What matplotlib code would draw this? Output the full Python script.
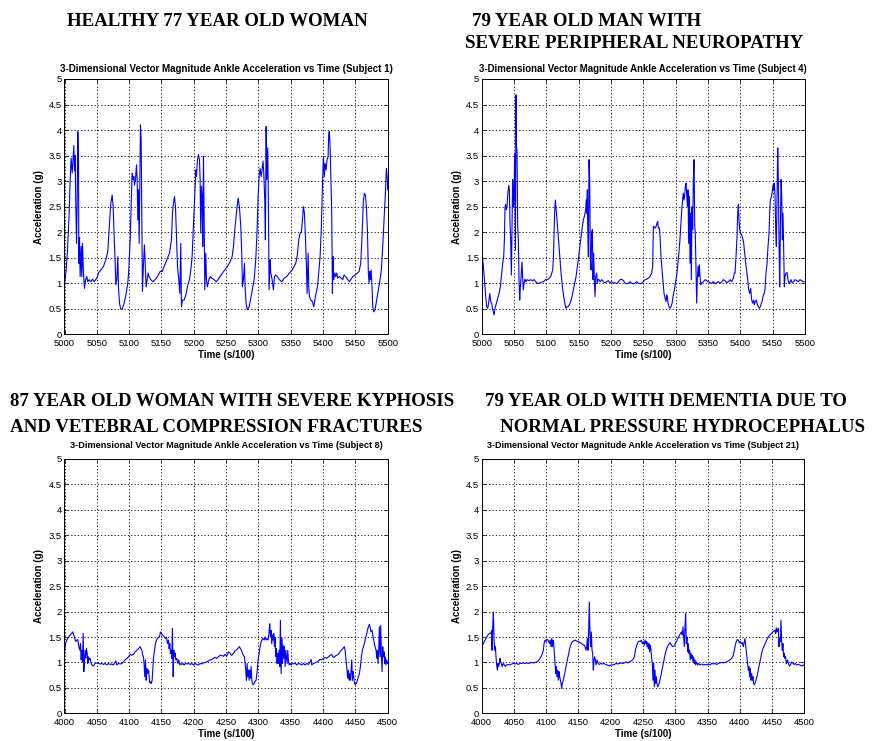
import matplotlib
matplotlib.use("Agg")
import matplotlib.pyplot as plt
import numpy as np

# ---------------- data ----------------
t_s1 = [5000.0, 5002.6, 5004.6, 5007.2, 5008.8, 5010.3, 5011.9, 5012.9, 5014.4, 5015.5, 5016.5, 5017.5, 5018.6,
        5019.6, 5020.6, 5021.7, 5022.2, 5023.2, 5024.2, 5025.8, 5026.8, 5027.8, 5029.4, 5030.9, 5032.5, 5034.5,
        5036.1, 5038.1, 5040.7, 5043.3, 5045.9, 5050.0, 5052.6, 5056.2, 5060.3, 5063.9, 5067.0, 5069.6, 5071.7,
        5073.7, 5075.3, 5076.8, 5078.4, 5079.4, 5080.9, 5082.5, 5083.5, 5085.1, 5087.1, 5089.2, 5092.3, 5095.4,
        5097.9, 5099.5, 5101.6, 5103.1, 5104.6, 5106.2, 5107.2, 5108.3, 5109.8, 5111.4, 5112.4, 5113.4, 5114.5,
        5115.5, 5116.5, 5117.5, 5118.6, 5119.6, 5120.6, 5122.2, 5123.7, 5124.8, 5126.3, 5127.8, 5129.4, 5130.9,
        5133.5, 5136.6, 5140.2, 5143.8, 5147.9, 5151.0, 5154.1, 5158.3, 5162.4, 5165.5, 5167.0, 5168.6, 5170.1,
        5171.7, 5173.2, 5174.8, 5176.8, 5178.4, 5179.9, 5180.9, 5182.5, 5185.1, 5188.2, 5190.7, 5193.3, 5195.4,
        5197.4, 5199.0, 5200.5, 5202.1, 5203.1, 5204.1, 5205.7, 5207.2, 5208.8, 5209.8, 5210.8, 5211.9, 5212.9,
        5213.9, 5215.0, 5216.0, 5217.0, 5218.6, 5219.6, 5221.1, 5223.2, 5225.3, 5227.8, 5231.5, 5234.5, 5237.6,
        5240.7, 5244.3, 5248.0, 5252.1, 5256.2, 5259.3, 5261.4, 5263.9, 5266.5, 5268.6, 5270.6, 5272.7, 5274.2,
        5275.3, 5276.8, 5278.4, 5279.4, 5280.9, 5283.0, 5285.6, 5288.7, 5291.3, 5293.3, 5295.9, 5298.0, 5299.5,
        5301.1, 5302.6, 5304.2, 5305.7, 5307.2, 5308.3, 5309.8, 5310.8, 5311.9, 5312.9, 5314.4, 5315.5, 5316.5,
        5318.1, 5319.1, 5321.2, 5323.2, 5324.8, 5326.8, 5329.4, 5332.5, 5336.1, 5339.7, 5343.8, 5347.9, 5352.1,
        5355.2, 5357.8, 5360.3, 5362.4, 5364.4, 5366.5, 5368.1, 5369.6, 5371.2, 5372.7, 5374.3, 5375.3, 5376.9,
        5377.9, 5378.9, 5381.0, 5383.5, 5385.6, 5388.2, 5391.3, 5393.3, 5395.4, 5397.4, 5399.0, 5400.5, 5402.1,
        5403.1, 5404.7, 5406.2, 5407.8, 5408.8, 5409.8, 5410.9, 5411.9, 5413.4, 5414.5, 5415.5, 5416.5, 5418.1,
        5419.6, 5421.2, 5422.7, 5425.3, 5427.9, 5430.4, 5432.5, 5435.1, 5438.2, 5440.8, 5443.3, 5445.9, 5449.5,
        5453.1, 5455.7, 5458.3, 5460.3, 5462.4, 5463.9, 5465.5, 5467.0, 5468.6, 5470.1, 5471.2, 5472.2, 5473.2,
        5474.3, 5475.8, 5476.8, 5478.4, 5480.4, 5483.0, 5485.6, 5488.2, 5490.2, 5492.3, 5494.4, 5496.4, 5498.0,
        5499.5, 5500.0]
a_s1 = [0.97, 1.26, 1.65, 2.37, 3.03, 3.45, 3.16, 3.35, 3.70, 3.20, 3.50, 2.50, 1.78,
        2.57, 3.97, 3.42, 1.39, 1.90, 1.13, 1.72, 1.13, 1.78, 1.19, 0.90, 1.07, 1.13,
        1.03, 1.07, 1.03, 1.08, 1.03, 1.10, 1.20, 1.26, 1.33, 1.46, 1.62, 2.18, 2.57,
        2.73, 2.50, 1.92, 1.39, 0.97, 1.07, 1.52, 0.93, 0.61, 0.49, 0.49, 0.61, 0.80,
        1.00, 1.26, 1.85, 2.50, 3.16, 3.03, 3.09, 2.93, 3.03, 3.32, 3.03, 2.24, 2.83,
        1.78, 2.90, 4.10, 3.81, 2.31, 0.84, 1.39, 1.75, 1.39, 0.93, 1.07, 1.20, 1.13,
        1.07, 1.03, 1.07, 1.13, 1.23, 1.23, 1.33, 1.46, 1.59, 1.85, 2.37, 2.57, 2.70,
        2.50, 1.92, 1.33, 1.07, 0.80, 1.78, 0.54, 0.67, 0.67, 0.80, 0.96, 1.07, 1.26,
        1.52, 1.98, 2.37, 2.90, 3.22, 3.09, 3.42, 3.52, 3.42, 3.03, 1.98, 2.90, 2.70,
        1.72, 3.48, 2.37, 0.87, 1.59, 1.07, 0.93, 1.07, 1.13, 1.10, 1.07, 1.03, 1.07,
        1.13, 1.20, 1.26, 1.33, 1.42, 1.52, 1.72, 2.11, 2.44, 2.67, 2.50, 2.11, 1.59,
        0.93, 1.07, 1.39, 0.93, 0.61, 0.48, 0.54, 0.74, 0.93, 1.07, 1.46, 2.05, 2.70,
        3.09, 3.25, 3.09, 3.22, 3.39, 3.16, 2.63, 1.85, 4.07, 3.03, 3.65, 2.50, 0.87,
        1.46, 1.20, 1.07, 0.87, 1.13, 1.16, 1.13, 1.07, 1.03, 1.10, 1.13, 1.20, 1.26,
        1.33, 1.39, 1.56, 1.85, 1.98, 2.01, 2.24, 2.50, 2.37, 1.92, 1.33, 0.80, 1.59,
        0.93, 0.74, 0.67, 0.64, 0.54, 0.74, 0.93, 1.20, 1.52, 2.11, 2.90, 3.48, 3.09,
        3.35, 3.22, 3.42, 3.48, 3.94, 3.97, 3.68, 3.16, 2.37, 0.80, 1.52, 1.07, 1.20,
        1.13, 1.20, 1.10, 1.13, 1.10, 1.07, 1.16, 1.13, 1.07, 1.03, 1.08, 1.13, 1.16,
        1.20, 1.23, 1.39, 1.92, 2.63, 2.76, 2.73, 2.50, 2.05, 1.20, 1.00, 1.23, 1.07,
        1.26, 0.93, 0.54, 0.44, 0.48, 0.67, 0.87, 1.07, 1.26, 1.72, 2.24, 2.76, 3.25,
        3.03, 2.83]

t_s4 = [5000.0, 5001.0, 5002.6, 5004.6, 5006.2, 5007.7, 5009.3, 5010.8, 5012.4, 5013.9, 5015.5, 5016.5, 5018.0,
        5019.1, 5020.6, 5022.7, 5024.7, 5026.8, 5028.9, 5030.9, 5032.5, 5034.0, 5035.1, 5036.1, 5037.1, 5038.1,
        5039.2, 5040.2, 5041.8, 5042.8, 5043.8, 5044.8, 5045.9, 5046.9, 5047.9, 5049.0, 5050.0, 5051.0, 5052.1,
        5053.1, 5053.6, 5054.6, 5055.7, 5056.7, 5057.7, 5058.8, 5059.8, 5061.3, 5062.4, 5063.4, 5064.4, 5065.5,
        5067.0, 5068.6, 5070.6, 5073.2, 5075.8, 5078.4, 5080.9, 5083.5, 5086.1, 5089.2, 5092.3, 5095.4, 5098.5,
        5101.6, 5104.6, 5106.7, 5108.3, 5109.8, 5110.8, 5111.9, 5112.9, 5113.9, 5115.0, 5116.5, 5118.1, 5119.6,
        5121.1, 5122.7, 5124.8, 5126.8, 5128.9, 5130.4, 5132.0, 5133.5, 5135.6, 5137.6, 5139.7, 5141.8, 5143.8,
        5145.9, 5148.0, 5150.0, 5152.1, 5154.1, 5155.7, 5157.2, 5158.8, 5159.8, 5160.8, 5161.9, 5162.4, 5163.4,
        5163.9, 5165.0, 5166.0, 5167.0, 5168.1, 5169.1, 5170.1, 5171.1, 5172.2, 5173.2, 5174.2, 5175.3, 5176.3,
        5177.8, 5178.9, 5179.9, 5181.5, 5183.0, 5185.6, 5188.2, 5190.7, 5193.3, 5195.9, 5198.5, 5201.0, 5203.6,
        5206.2, 5208.8, 5211.4, 5213.9, 5216.5, 5219.1, 5221.7, 5224.2, 5226.8, 5229.4, 5232.0, 5234.6, 5237.1,
        5239.7, 5242.3, 5244.9, 5247.4, 5250.0, 5252.6, 5255.2, 5257.8, 5260.3, 5262.9, 5264.4, 5265.5, 5266.5,
        5268.1, 5269.6, 5271.2, 5272.2, 5273.2, 5274.8, 5275.8, 5277.3, 5278.9, 5280.4, 5282.0, 5283.5, 5285.1,
        5286.1, 5287.1, 5288.2, 5289.7, 5291.3, 5292.8, 5294.4, 5295.9, 5298.0, 5299.5, 5301.6, 5303.1, 5304.7,
        5306.2, 5307.8, 5309.3, 5310.9, 5311.9, 5312.9, 5314.0, 5315.0, 5316.0, 5317.0, 5318.1, 5319.1, 5320.1,
        5321.2, 5322.2, 5323.2, 5324.2, 5325.3, 5326.3, 5327.3, 5328.4, 5329.4, 5330.4, 5331.5, 5332.5, 5333.5,
        5334.6, 5335.6, 5336.6, 5337.7, 5338.7, 5340.2, 5342.8, 5345.4, 5348.0, 5350.5, 5353.1, 5355.7, 5358.3,
        5360.9, 5363.4, 5366.0, 5368.6, 5371.2, 5373.7, 5376.3, 5378.9, 5381.5, 5384.1, 5386.6, 5389.2, 5390.7,
        5391.8, 5393.3, 5394.9, 5395.9, 5396.9, 5398.0, 5399.0, 5400.5, 5402.1, 5403.6, 5405.2, 5406.7, 5408.3,
        5409.8, 5411.4, 5412.9, 5414.5, 5416.0, 5417.6, 5419.1, 5420.7, 5421.7, 5423.2, 5424.8, 5426.3, 5427.9,
        5429.4, 5431.0, 5432.5, 5434.1, 5435.6, 5437.2, 5438.2, 5439.7, 5441.3, 5442.8, 5444.4, 5445.4, 5446.4,
        5447.5, 5449.0, 5450.6, 5451.6, 5452.6, 5453.7, 5454.7, 5455.7, 5456.8, 5457.8, 5458.8, 5459.9, 5460.9,
        5461.9, 5463.0, 5464.0, 5465.0, 5466.0, 5467.1, 5468.1, 5469.1, 5470.7, 5472.2, 5473.7, 5475.3, 5476.8,
        5478.4, 5479.9, 5482.0, 5484.6, 5487.1, 5489.7, 5492.3, 5494.8, 5497.4, 5500.0]
a_s4 = [1.78, 1.55, 1.33, 1.00, 0.74, 0.54, 0.51, 0.61, 0.80, 0.64, 0.61, 0.51, 0.44,
        0.38, 0.51, 0.61, 0.71, 0.80, 0.93, 1.20, 1.39, 1.52, 1.85, 2.50, 2.54, 2.44,
        2.50, 2.73, 2.91, 2.83, 2.18, 1.85, 1.16, 2.05, 3.03, 2.50, 2.70, 3.55, 1.65,
        4.69, 3.68, 3.61, 2.11, 1.85, 1.07, 0.67, 0.93, 1.20, 1.42, 1.07, 0.87, 1.00,
        1.08, 1.03, 1.07, 1.05, 1.07, 1.05, 1.07, 1.03, 1.00, 1.00, 1.02, 1.03, 1.07,
        1.07, 1.10, 1.13, 1.20, 1.26, 1.46, 1.98, 2.41, 2.63, 2.47, 2.24, 1.98, 1.72,
        1.46, 1.20, 0.93, 0.74, 0.58, 0.51, 0.54, 0.54, 0.58, 0.64, 0.74, 0.87, 1.00,
        1.13, 1.33, 1.52, 1.75, 1.95, 2.11, 2.24, 2.31, 2.37, 2.44, 2.63, 2.37, 2.83,
        2.18, 1.52, 3.42, 3.03, 1.46, 1.26, 1.98, 2.05, 1.07, 1.59, 1.07, 0.74, 1.13,
        1.20, 1.00, 1.07, 1.07, 1.03, 1.07, 1.03, 1.01, 1.03, 1.05, 1.01, 1.03, 1.00,
        1.01, 0.99, 1.03, 1.07, 1.08, 1.05, 1.00, 0.99, 1.00, 1.03, 1.00, 0.99, 1.00,
        1.03, 1.00, 0.99, 1.00, 1.03, 1.07, 1.08, 1.10, 1.13, 1.20, 1.33, 2.11, 2.11,
        2.08, 2.11, 2.18, 2.21, 2.08, 2.08, 1.92, 1.52, 1.26, 1.03, 0.80, 0.71, 0.64,
        0.77, 0.74, 0.61, 0.54, 0.51, 0.54, 0.61, 0.74, 0.87, 1.00, 1.16, 1.33, 1.56,
        1.78, 2.11, 2.41, 2.67, 2.76, 2.63, 2.73, 2.90, 2.96, 2.76, 2.50, 2.83, 1.78,
        2.70, 1.39, 2.37, 1.07, 2.50, 2.05, 3.03, 3.42, 2.18, 1.92, 1.20, 0.61, 1.07,
        1.33, 1.13, 1.36, 1.13, 0.97, 1.00, 1.03, 1.07, 1.05, 1.03, 1.01, 1.00, 1.03,
        0.99, 1.01, 1.03, 1.00, 1.03, 1.07, 1.05, 1.01, 1.03, 1.07, 1.03, 1.10, 1.20,
        1.20, 1.52, 1.92, 2.37, 2.54, 2.24, 2.05, 1.98, 1.95, 1.88, 1.78, 1.59, 1.39,
        1.23, 1.07, 0.87, 0.80, 0.90, 0.67, 0.61, 0.67, 0.58, 0.64, 0.67, 0.58, 0.54,
        0.51, 0.54, 0.61, 0.67, 0.77, 0.80, 0.90, 1.20, 1.39, 1.72, 1.98, 2.37, 2.63,
        2.67, 2.76, 2.93, 2.83, 2.96, 2.70, 2.05, 1.72, 2.70, 3.65, 3.03, 1.72, 0.93,
        2.05, 3.03, 2.70, 1.85, 2.37, 1.65, 0.93, 1.13, 1.20, 1.21, 1.07, 0.99, 1.03,
        1.07, 1.01, 1.03, 1.07, 1.05, 1.03, 1.07, 1.05, 1.03, 1.03]

t_s8 = [4000.0, 4001.5, 4003.6, 4006.2, 4008.8, 4011.3, 4012.9, 4014.4, 4016.0, 4017.5, 4019.1, 4020.6, 4022.2,
        4023.7, 4024.7, 4025.8, 4026.8, 4027.8, 4028.9, 4029.9, 4030.9, 4032.0, 4033.0, 4034.0, 4035.1, 4036.1,
        4037.1, 4038.1, 4039.7, 4041.2, 4042.8, 4044.8, 4047.4, 4050.0, 4052.6, 4055.2, 4057.7, 4060.3, 4062.9,
        4065.5, 4068.0, 4070.6, 4073.2, 4075.8, 4079.4, 4080.9, 4083.5, 4086.1, 4088.7, 4091.2, 4093.8, 4096.4,
        4099.0, 4101.6, 4104.1, 4106.7, 4109.3, 4111.9, 4114.4, 4117.0, 4119.6, 4121.1, 4122.2, 4123.2, 4124.2,
        4125.3, 4126.3, 4127.3, 4128.4, 4129.4, 4130.4, 4131.5, 4132.5, 4133.5, 4134.5, 4135.6, 4136.6, 4137.6,
        4139.2, 4140.7, 4142.3, 4143.8, 4145.4, 4146.9, 4148.5, 4150.0, 4151.6, 4153.1, 4154.7, 4156.2, 4157.7,
        4159.3, 4160.8, 4161.9, 4162.9, 4163.9, 4165.0, 4166.0, 4167.0, 4168.1, 4169.1, 4170.1, 4171.1, 4172.2,
        4173.7, 4175.3, 4176.8, 4178.4, 4179.9, 4181.5, 4183.0, 4185.1, 4187.1, 4189.2, 4191.8, 4194.3, 4196.9,
        4199.5, 4202.1, 4204.7, 4207.2, 4209.8, 4212.4, 4215.0, 4217.5, 4220.1, 4222.7, 4225.3, 4227.9, 4230.4,
        4233.0, 4235.6, 4238.2, 4240.7, 4243.3, 4245.9, 4248.5, 4251.0, 4253.6, 4256.2, 4258.8, 4261.4, 4263.9,
        4266.5, 4269.1, 4270.6, 4272.2, 4273.7, 4275.3, 4276.8, 4278.4, 4279.4, 4280.4, 4281.5, 4282.5, 4283.5,
        4284.6, 4285.6, 4286.6, 4287.6, 4288.7, 4289.7, 4290.7, 4291.8, 4293.3, 4294.9, 4296.4, 4298.0, 4299.5,
        4301.1, 4302.6, 4304.2, 4305.7, 4307.2, 4308.8, 4310.3, 4311.9, 4313.4, 4315.0, 4316.5, 4317.5, 4318.6,
        4319.6, 4320.6, 4321.7, 4322.7, 4323.7, 4324.8, 4325.8, 4326.8, 4327.9, 4328.9, 4329.9, 4331.0, 4332.0,
        4333.0, 4334.0, 4335.1, 4336.1, 4337.1, 4338.2, 4339.2, 4340.2, 4341.3, 4342.3, 4343.3, 4344.4, 4345.4,
        4346.4, 4347.5, 4349.0, 4350.5, 4352.1, 4354.1, 4356.7, 4359.3, 4361.9, 4364.5, 4367.0, 4369.6, 4372.2,
        4374.8, 4377.3, 4379.9, 4381.5, 4382.5, 4385.1, 4387.7, 4390.2, 4392.8, 4395.4, 4398.0, 4400.5, 4403.1,
        4405.7, 4408.3, 4410.9, 4413.4, 4415.0, 4416.5, 4418.6, 4421.2, 4423.7, 4426.3, 4428.9, 4431.5, 4433.0,
        4434.1, 4435.1, 4436.1, 4437.1, 4438.2, 4439.2, 4440.2, 4441.3, 4442.3, 4443.3, 4444.4, 4445.4, 4446.4,
        4447.5, 4448.5, 4450.0, 4451.6, 4453.1, 4454.7, 4456.2, 4457.8, 4459.3, 4460.9, 4462.4, 4464.0, 4465.5,
        4467.0, 4468.6, 4470.1, 4471.7, 4472.7, 4474.3, 4475.8, 4477.4, 4478.9, 4480.4, 4482.0, 4483.0, 4484.1,
        4485.1, 4486.1, 4487.1, 4488.2, 4489.2, 4490.2, 4491.3, 4492.3, 4493.3, 4494.4, 4495.4, 4496.4, 4497.4,
        4498.5, 4500.0]
a_s8 = [1.18, 1.37, 1.44, 1.50, 1.54, 1.58, 1.60, 1.54, 1.47, 1.41, 1.44, 1.45, 1.31,
        1.24, 1.37, 1.05, 1.24, 1.01, 1.57, 0.82, 1.05, 1.24, 1.08, 1.27, 1.18, 0.98,
        1.11, 1.05, 1.08, 0.98, 0.95, 0.93, 0.98, 0.99, 0.98, 0.97, 0.98, 0.96, 0.98,
        0.95, 0.98, 0.96, 0.97, 0.95, 1.03, 0.95, 0.98, 0.97, 0.98, 1.01, 1.05, 1.08,
        1.11, 1.16, 1.14, 1.16, 1.21, 1.24, 1.27, 1.31, 1.24, 1.14, 1.11, 0.95, 0.72,
        1.05, 0.65, 0.88, 0.78, 0.85, 0.82, 0.62, 0.59, 0.62, 0.59, 0.65, 0.85, 1.08,
        1.24, 1.37, 1.44, 1.47, 1.50, 1.50, 1.60, 1.57, 1.54, 1.52, 1.50, 1.47, 1.50,
        1.37, 1.44, 1.27, 1.37, 1.18, 1.24, 1.08, 1.67, 0.72, 1.24, 1.11, 1.18, 1.05,
        1.08, 0.98, 1.05, 0.95, 0.98, 0.96, 0.98, 0.95, 0.98, 0.97, 0.98, 0.96, 0.98,
        0.95, 0.98, 0.96, 0.95, 0.98, 0.97, 0.99, 1.00, 1.01, 1.03, 1.05, 1.06, 1.08,
        1.10, 1.08, 1.11, 1.14, 1.14, 1.12, 1.16, 1.12, 1.21, 1.18, 1.14, 1.18, 1.23,
        1.25, 1.29, 1.31, 1.27, 1.24, 1.18, 1.14, 1.11, 0.98, 0.85, 0.65, 0.98, 0.72,
        0.85, 0.65, 0.85, 0.69, 0.92, 0.65, 0.59, 0.56, 0.59, 0.62, 0.65, 0.82, 1.05,
        1.18, 1.31, 1.41, 1.45, 1.47, 1.44, 1.50, 1.44, 1.47, 1.44, 1.60, 1.76, 1.50,
        1.63, 1.37, 1.54, 1.44, 1.57, 1.31, 1.50, 1.11, 1.27, 0.98, 1.18, 0.98, 1.24,
        0.92, 1.83, 0.78, 1.47, 0.98, 1.34, 1.08, 1.31, 0.92, 1.24, 1.11, 0.98, 1.24,
        1.05, 0.95, 0.98, 0.95, 0.98, 0.97, 0.99, 0.95, 0.98, 0.97, 0.95, 0.98, 0.95,
        0.98, 0.96, 1.01, 1.06, 0.95, 0.98, 0.99, 1.01, 1.03, 1.06, 1.05, 1.08, 1.10,
        1.08, 1.11, 1.14, 1.16, 1.11, 1.10, 1.12, 1.14, 1.16, 1.21, 1.25, 1.29, 1.31,
        1.24, 1.11, 0.98, 0.85, 0.69, 0.85, 0.65, 0.78, 0.65, 0.85, 1.05, 0.65, 0.82,
        0.72, 0.59, 0.56, 0.59, 0.65, 0.72, 0.78, 0.92, 1.11, 1.24, 1.31, 1.37, 1.47,
        1.54, 1.63, 1.70, 1.75, 1.70, 1.60, 1.63, 1.50, 1.41, 1.31, 1.24, 1.08, 1.24,
        0.98, 1.24, 1.70, 1.11, 1.73, 1.18, 0.82, 1.31, 1.11, 1.21, 0.98, 1.11, 0.95,
        1.05, 0.98]

t_s21 = [4000.0, 4002.6, 4005.2, 4007.7, 4010.3, 4012.9, 4014.5, 4015.5, 4016.0, 4017.0, 4018.1, 4019.1, 4020.1,
         4021.2, 4022.2, 4023.2, 4024.3, 4025.3, 4026.3, 4027.4, 4028.4, 4029.4, 4030.5, 4031.5, 4032.5, 4033.6,
         4035.1, 4036.7, 4038.7, 4041.3, 4043.9, 4046.5, 4049.1, 4051.7, 4054.2, 4056.8, 4059.4, 4062.0, 4064.6,
         4067.1, 4069.7, 4072.3, 4074.9, 4077.5, 4080.1, 4082.6, 4085.2, 4087.8, 4090.4, 4093.0, 4095.6, 4096.6,
         4098.1, 4099.7, 4100.7, 4102.3, 4103.8, 4105.4, 4106.4, 4107.4, 4108.5, 4109.5, 4110.5, 4111.6, 4112.6,
         4113.6, 4114.7, 4115.7, 4116.7, 4117.8, 4118.8, 4119.8, 4120.9, 4121.9, 4122.9, 4124.0, 4125.0, 4126.5,
         4128.1, 4129.6, 4131.2, 4132.7, 4134.3, 4135.8, 4137.4, 4138.9, 4140.5, 4142.0, 4144.6, 4147.2, 4149.8,
         4152.4, 4155.0, 4157.5, 4159.1, 4160.1, 4161.7, 4162.7, 4163.7, 4164.8, 4165.8, 4166.8, 4167.9, 4168.9,
         4169.9, 4171.0, 4172.0, 4173.0, 4174.1, 4175.1, 4176.1, 4177.2, 4178.7, 4180.3, 4182.3, 4184.4, 4187.0,
         4189.6, 4192.1, 4194.7, 4197.8, 4200.4, 4203.0, 4205.6, 4208.1, 4210.7, 4213.3, 4215.9, 4218.5, 4221.1,
         4223.6, 4226.2, 4228.8, 4231.4, 4234.0, 4236.6, 4238.1, 4239.7, 4241.2, 4242.8, 4244.3, 4245.9, 4247.4,
         4249.0, 4250.5, 4252.0, 4253.1, 4254.1, 4255.2, 4256.2, 4257.2, 4258.3, 4259.3, 4260.3, 4261.3, 4262.4,
         4263.4, 4264.4, 4265.5, 4266.5, 4267.5, 4268.6, 4269.6, 4270.6, 4271.7, 4272.7, 4274.3, 4275.8, 4277.4,
         4278.9, 4280.5, 4282.0, 4283.6, 4285.1, 4286.7, 4288.2, 4289.8, 4291.8, 4293.9, 4296.0, 4297.5, 4299.1,
         4300.6, 4302.2, 4303.7, 4305.3, 4306.8, 4308.4, 4309.9, 4310.9, 4312.0, 4313.0, 4314.0, 4315.1, 4316.1,
         4317.1, 4318.2, 4319.2, 4320.2, 4321.3, 4322.3, 4323.3, 4324.4, 4325.4, 4326.4, 4327.5, 4328.5, 4329.5,
         4330.6, 4331.6, 4333.1, 4334.7, 4336.2, 4338.3, 4340.9, 4343.5, 4346.1, 4348.6, 4351.2, 4353.8, 4356.4,
         4359.0, 4361.6, 4364.1, 4366.7, 4369.3, 4371.9, 4374.5, 4377.0, 4379.6, 4382.2, 4384.8, 4387.4, 4390.0,
         4391.5, 4393.1, 4394.6, 4396.2, 4397.7, 4399.3, 4400.8, 4402.4, 4403.9, 4405.5, 4407.0, 4408.0, 4409.1,
         4410.1, 4411.1, 4412.2, 4413.2, 4414.2, 4415.3, 4416.3, 4417.3, 4418.4, 4419.4, 4420.4, 4421.5, 4422.5,
         4423.5, 4425.1, 4426.6, 4428.2, 4429.7, 4431.3, 4432.8, 4434.4, 4435.9, 4437.5, 4439.0, 4440.6, 4442.1,
         4443.7, 4445.2, 4446.8, 4448.3, 4449.9, 4451.4, 4453.0, 4454.5, 4455.6, 4456.6, 4457.6, 4458.7, 4459.7,
         4460.7, 4461.7, 4462.8, 4463.8, 4464.8, 4465.9, 4466.9, 4467.9, 4469.0, 4470.0, 4471.0, 4472.1, 4473.1,
         4474.1, 4475.2, 4476.2, 4477.2, 4478.3, 4479.3, 4480.3, 4481.3, 4482.9, 4484.5, 4486.0, 4488.1, 4490.7,
         4493.2, 4495.8, 4498.4, 4500.0]
a_s21 = [1.31, 1.37, 1.44, 1.50, 1.55, 1.58, 1.57, 1.63, 1.24, 1.67, 1.99, 1.47, 1.24,
         1.31, 1.11, 0.95, 0.85, 0.98, 0.92, 0.98, 1.08, 1.01, 0.98, 0.92, 0.95, 0.98,
         0.95, 0.92, 0.95, 0.96, 0.95, 0.97, 0.98, 0.97, 0.98, 0.96, 0.98, 0.98, 0.99,
         0.98, 0.99, 0.98, 0.99, 1.00, 0.99, 1.00, 1.01, 1.03, 1.08, 1.14, 1.24, 1.37,
         1.44, 1.41, 1.44, 1.45, 1.41, 1.37, 1.44, 1.31, 1.47, 1.31, 1.44, 1.37, 1.18,
         0.98, 0.78, 0.92, 0.72, 0.85, 0.65, 0.82, 0.72, 0.65, 0.59, 0.49, 0.59, 0.65,
         0.75, 0.85, 0.95, 1.05, 1.14, 1.24, 1.32, 1.37, 1.41, 1.42, 1.44, 1.42, 1.41,
         1.39, 1.37, 1.34, 1.34, 1.31, 1.24, 1.31, 1.47, 1.24, 1.63, 2.19, 1.50, 1.31,
         1.60, 1.24, 1.18, 0.85, 1.05, 1.11, 1.05, 0.95, 1.05, 0.98, 0.96, 0.98, 0.97,
         0.98, 0.96, 0.95, 0.93, 0.95, 0.95, 0.96, 0.98, 0.97, 0.98, 0.99, 0.98, 0.99,
         1.01, 0.99, 1.01, 1.03, 1.05, 1.11, 1.24, 1.31, 1.37, 1.41, 1.42, 1.41, 1.44,
         1.37, 1.41, 1.34, 1.44, 1.37, 1.41, 1.31, 1.39, 1.27, 1.37, 1.21, 1.34, 1.24,
         1.08, 0.98, 0.65, 0.98, 0.52, 0.85, 0.59, 0.72, 0.59, 0.52, 0.56, 0.62, 0.72,
         0.82, 0.92, 1.01, 1.11, 1.21, 1.27, 1.32, 1.35, 1.39, 1.34, 1.31, 1.32, 1.34,
         1.39, 1.42, 1.47, 1.50, 1.54, 1.58, 1.60, 1.54, 1.70, 1.50, 1.31, 1.70, 1.96,
         1.37, 1.50, 1.21, 1.37, 1.18, 1.24, 1.05, 1.18, 1.08, 1.14, 1.01, 1.11, 0.98,
         1.05, 0.95, 1.01, 0.95, 0.98, 0.95, 0.97, 0.95, 0.96, 0.95, 0.97, 0.95, 0.98,
         0.97, 0.98, 0.96, 0.98, 0.99, 1.00, 0.99, 1.00, 1.01, 1.03, 1.05, 1.08, 1.14,
         1.24, 1.34, 1.41, 1.45, 1.44, 1.39, 1.41, 1.37, 1.39, 1.31, 1.41, 1.47, 1.34,
         1.24, 1.11, 0.98, 0.85, 0.92, 0.72, 0.88, 0.65, 0.78, 0.65, 0.72, 0.59, 0.56,
         0.59, 0.65, 0.72, 0.82, 0.92, 1.01, 1.11, 1.21, 1.27, 1.32, 1.36, 1.41, 1.45,
         1.49, 1.52, 1.54, 1.56, 1.58, 1.60, 1.62, 1.63, 1.57, 1.68, 1.60, 1.63, 1.67,
         1.31, 1.47, 1.41, 1.83, 1.44, 1.24, 1.37, 1.11, 1.18, 1.08, 1.11, 0.98, 1.01,
         1.05, 0.98, 0.95, 0.93, 0.95, 0.98, 1.01, 0.99, 0.98, 0.96, 0.98, 0.95, 0.96,
         0.95, 0.93, 0.95, 0.93]

panel_titles = [
    "3-Dimensional Vector Magnitude Ankle Acceleration vs Time (Subject 1)",
    "3-Dimensional Vector Magnitude Ankle Acceleration vs Time (Subject 4)",
    "3-Dimensional Vector Magnitude Ankle Acceleration vs Time (Subject 8)",
    "3-Dimensional Vector Magnitude Ankle Acceleration vs Time (Subject 21)",
]
x_ranges = [(5000, 5500), (5000, 5500), (4000, 4500), (4000, 4500)]
y_ticks = [0, 0.5, 1, 1.5, 2, 2.5, 3, 3.5, 4, 4.5, 5]
y_tick_labels = ["0", "0.5", "1", "1.5", "2", "2.5", "3", "3.5", "4", "4.5", "5"]
x_label = "Time (s/100)"
y_label = "Acceleration (g)"

# ---------------- figure ----------------
fig = plt.figure(figsize=(8.79, 7.41), dpi=100)
W, H = 879, 741

def px_axes(left, top, right, bottom):
    return [left / W, 1 - bottom / H, (right - left) / W, (bottom - top) / H]

positions = [
    px_axes(64.5, 79, 387.7, 334.3),
    px_axes(481.7, 79, 805, 334.3),
    px_axes(64.5, 459, 387.7, 713.3),
    px_axes(481.7, 459, 804.3, 713.3),
]
series = [(t_s1, a_s1), (t_s4, a_s4), (t_s8, a_s8), (t_s21, a_s21)]
title_sizes = [7.0, 6.9, 6.6, 6.5]
title_pads = [5, 5, 8, 8]

sans = ["Liberation Sans", "DejaVu Sans"]
for pos, (tt, aa), title, (x0, x1), tsz, tpad in zip(positions, series, panel_titles, x_ranges,
                                                     title_sizes, title_pads):
    ax = fig.add_axes(pos)
    ax.plot(tt, aa, color="#0000FF", lw=0.8)
    ax.set_xlim(x0, x1)
    ax.set_ylim(0, 5)
    ax.set_xticks(np.arange(x0, x1 + 1, 50))
    ax.set_xticklabels([str(v) for v in range(x0, x1 + 1, 50)], fontsize=6.8, family=sans)
    ax.set_yticks(y_ticks)
    ax.set_yticklabels(y_tick_labels, fontsize=6.8, family=sans)
    ax.tick_params(direction="in", length=3, width=0.5, top=True, right=True)
    ax.tick_params(axis="x", pad=3.5)
    ax.tick_params(axis="y", pad=2)
    ax.grid(True, color="black", linestyle=(0, (1.5, 2.5)), linewidth=0.6)
    for s in ax.spines.values():
        s.set_linewidth(0.7)
    ax.set_title(title, fontsize=tsz, fontweight="bold", family=sans, pad=tpad)
    ax.set_xlabel(x_label, fontsize=7, fontweight="bold", family=sans, labelpad=1)
    ax.set_ylabel(y_label, fontsize=7, fontweight="bold", family=sans, labelpad=3)

serif = ["Liberation Serif", "DejaVu Serif"]
big = dict(fontsize=13.6, fontweight="bold", family=serif, ha="left", va="center")
fig.text(67 / W, 1 - 22 / H, "HEALTHY 77 YEAR OLD WOMAN", **big)
fig.text(472 / W, 1 - 22 / H, "79 YEAR OLD MAN WITH", **big)
fig.text(465 / W, 1 - 43 / H, "SEVERE PERIPHERAL NEUROPATHY", **big)
fig.text(10 / W, 1 - 402 / H, "87 YEAR OLD WOMAN WITH SEVERE KYPHOSIS", **big)
fig.text(10 / W, 1 - 428 / H, "AND VETEBRAL COMPRESSION FRACTURES", **big)
fig.text(485 / W, 1 - 402 / H, "79 YEAR OLD WITH DEMENTIA DUE TO", **big)
fig.text(500 / W, 1 - 428 / H, "NORMAL PRESSURE HYDROCEPHALUS", **big)

fig.savefig("out.png", dpi=100, facecolor="white")
